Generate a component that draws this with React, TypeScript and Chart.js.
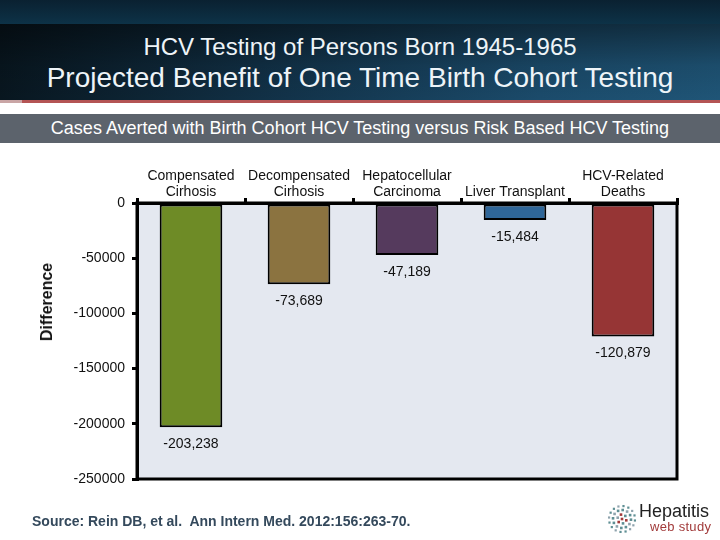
import React, { useEffect, useRef } from "react";
import { Chart, registerables } from "chart.js";

Chart.register(...registerables);

const categories: (string | string[])[] = [
  ["Compensated", "Cirhosis"],
  ["Decompensated", "Cirhosis"],
  ["Hepatocellular", "Carcinoma"],
  "Liver Transplant",
  ["HCV-Related", "Deaths"],
];
const casesAverted = [-203238, -73689, -47189, -15484, -120879];
const barColors = ["#6e8b26", "#8b7340", "#553a5d", "#2f6698", "#963535"];
const yMin = -250000;
const yMax = 0;
const yStep = 50000;

const titleLine1 = "HCV Testing of Persons Born 1945-1965";
const titleLine2 = "Projected Benefit of One Time Birth Cohort Testing";
const subtitle = "Cases Averted with Birth Cohort HCV Testing versus Risk Based HCV Testing";
const yTitle = "Difference";
const sourceText = "Source: Rein DB, et al.  Ann Intern Med. 2012:156:263-70.";

const FONT = "'Liberation Sans', Arial, sans-serif";

const framePlugin = {
  id: "frame",
  beforeDraw(chart: any) {
    const { ctx, chartArea: a } = chart;
    ctx.save();
    ctx.fillStyle = "#e4e8f0";
    ctx.fillRect(a.left, a.top, a.right - a.left, a.bottom - a.top);
    ctx.restore();
  },
  afterDatasetsDraw(chart: any) {
    const { ctx, chartArea: a } = chart;
    ctx.save();
    const meta = chart.getDatasetMeta(0);
    ctx.font = `14px ${FONT}`;
    ctx.fillStyle = "#111";
    ctx.textAlign = "center";
    ctx.textBaseline = "middle";
    meta.data.forEach((bar: any, i: number) => {
      const v = casesAverted[i];
      const txt = "-" + Math.abs(v).toLocaleString("en-US");
      ctx.fillText(txt, bar.x, bar.y + 17);
    });
    ctx.strokeStyle = "#000";
    ctx.lineWidth = 3;
    ctx.strokeRect(a.left, a.top, a.right - a.left, a.bottom - a.top);
    ctx.restore();
  },
};

function Logo() {
  const dots: React.ReactNode[] = [];
  const rings = [
    { r: 0, n: 1 },
    { r: 4.5, n: 6 },
    { r: 9, n: 12 },
    { r: 13, n: 16 },
  ];
  rings.forEach((ring, ri) => {
    for (let k = 0; k < ring.n; k++) {
      const ang = (k / ring.n) * Math.PI * 2 + ri * 0.3;
      const cx = 15 + ring.r * Math.cos(ang);
      const cy = 15 + ring.r * Math.sin(ang);
      const red = ri <= 1 && (k % 2 === 0 || ri === 0);
      const col = red ? "#a23b3b" : k % 3 === 0 ? "#8fa3ad" : "#5f8f94";
      const s = ri === 3 ? 2.2 : 2.6;
      dots.push(<rect key={`${ri}-${k}`} x={cx - s / 2} y={cy - s / 2} width={s} height={s} fill={col} />);
    }
  });
  return (
    <svg width={30} height={30} style={{ position: "absolute", left: 607, top: 504 }}>
      {dots}
    </svg>
  );
}

export default function App() {
  const canvasRef = useRef<HTMLCanvasElement | null>(null);

  useEffect(() => {
    if (!canvasRef.current) return;
    const chart = new Chart(canvasRef.current, {
      type: "bar",
      data: {
        labels: categories as any,
        datasets: [
          {
            data: casesAverted,
            backgroundColor: barColors,
            borderColor: "#000",
            borderWidth: 2,
            borderSkipped: false,
            barPercentage: 0.58,
            categoryPercentage: 1,
          },
        ],
      },
      options: {
        responsive: false,
        animation: false,
        devicePixelRatio: 1,
        layout: { padding: { left: 0, top: 0, right: 43, bottom: 61 } },
        plugins: {
          legend: { display: false },
          tooltip: { enabled: false },
        },
        scales: {
          x: {
            position: "top",
            ticks: {
              font: { family: FONT, size: 14 },
              color: "#111",
              padding: -3,
              autoSkip: false,
              maxRotation: 0,
              minRotation: 0,
            },
            grid: {
              offset: true,
              drawOnChartArea: false,
              drawTicks: true,
              tickLength: 5,
              color: "#000",
              lineWidth: 3,
            },
            border: { display: true, color: "#000", width: 3 },
            afterFit: (s: any) => {
              s.height = 203;
            },
          },
          y: {
            min: yMin,
            max: yMax,
            ticks: {
              stepSize: yStep,
              callback: (v: any) => String(v),
              font: { family: FONT, size: 14 },
              color: "#111",
              padding: 7,
            },
            grid: {
              drawOnChartArea: false,
              drawTicks: true,
              tickLength: 5,
              color: "#000",
              lineWidth: 3,
            },
            border: { display: true, color: "#000", width: 3 },
            afterFit: (s: any) => {
              s.width = 137;
            },
          },
        },
      } as any,
      plugins: [framePlugin],
    });
    return () => chart.destroy();
  }, []);

  const abs = (style: React.CSSProperties): React.CSSProperties => ({ position: "absolute", ...style });

  return (
    <div style={{ position: "absolute", left: 0, top: 0, width: 720, height: 540, background: "#fff", overflow: "hidden", fontFamily: FONT }}>
      <div style={abs({ left: 0, top: 0, width: 720, height: 24, background: "linear-gradient(to bottom, #0a2131, #0d3247)" })} />
      <div
        style={abs({
          left: 0,
          top: 24,
          width: 720,
          height: 76,
          background:
            "linear-gradient(to bottom, rgba(0,0,0,0.45) 0%, rgba(0,0,0,0.1) 55%, rgba(0,0,0,0) 100%), linear-gradient(to right, #08161f 0%, #12334a 40%, #1b4b6b 75%, #1f5577 100%)",
        })}
      />
      <div style={abs({ left: 0, top: 100, width: 22, height: 3, background: "#c9a5a5" })} />
      <div style={abs({ left: 22, top: 100, width: 698, height: 3, background: "#b45454" })} />
      <div style={abs({ left: 0, top: 114, width: 720, height: 29, background: "#5c636c" })} />
      <div style={abs({ left: 0, top: 33, width: 720, textAlign: "center", color: "#eef4f8", fontSize: 24, lineHeight: "28px" })}>{titleLine1}</div>
      <div style={abs({ left: 0, top: 61, width: 720, textAlign: "center", color: "#eef4f8", fontSize: 28, lineHeight: "34px" })}>{titleLine2}</div>
      <div style={abs({ left: 0, top: 117, width: 720, textAlign: "center", color: "#fff", fontSize: 18, lineHeight: "22px" })}>{subtitle}</div>
      <canvas ref={canvasRef} width={720} height={540} style={abs({ left: 0, top: 0, width: 720, height: 540 })} />
      <div
        style={abs({
          left: 47,
          top: 302,
          transform: "translate(-50%, -50%) rotate(-90deg)",
          fontWeight: "bold",
          fontSize: 16,
          color: "#111",
          whiteSpace: "nowrap",
        })}
      >
        {yTitle}
      </div>
      <div style={abs({ left: 32, top: 513, fontWeight: "bold", fontSize: 14, color: "#34495c", whiteSpace: "pre", lineHeight: "16px" })}>{sourceText}</div>
      <Logo />
      <div style={abs({ left: 639, top: 500, fontSize: 18, color: "#222", lineHeight: "22px" })}>Hepatitis</div>
      <div style={abs({ left: 650, top: 519, fontSize: 13, color: "#a23b3b", letterSpacing: 0.3, lineHeight: "16px" })}>web study</div>
    </div>
  );
}
